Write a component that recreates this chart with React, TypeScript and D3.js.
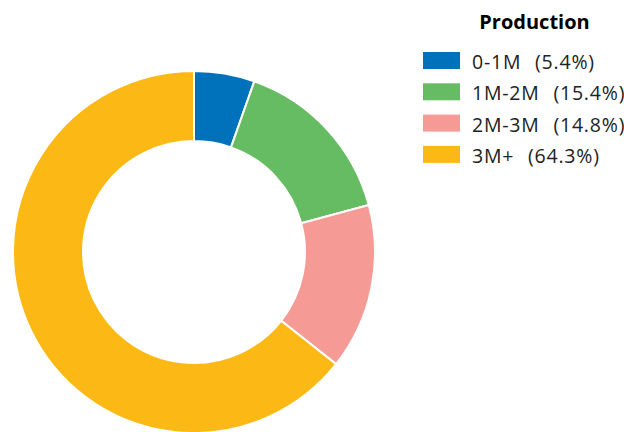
import React from "react";
import * as d3 from "d3";

const categories = ["0-1M", "1M-2M", "2M-3M", "3M+"];
const values = [5.4, 15.4, 14.8, 64.3];
const colors = ["#0072bb", "#66bc62", "#f69a95", "#fcb916"];
const title = "Production";

export default function App() {
  const W = 624, H = 432;
  const cx = 194, cy = 252, rOuter = 181, rInner = 111;
  const pie = d3.pie<number>().sort(null).value((d) => d);
  const arcs = pie(values);
  const arc = d3.arc<d3.PieArcDatum<number>>().innerRadius(rInner).outerRadius(rOuter);
  const font = "'Open Sans', 'Noto Sans', sans-serif";
  const rowY = d3.scaleLinear().domain([0, 1]).range([52, 83.3]);
  return (
    <svg width={W} height={H} style={{ position: "absolute", left: 0, top: 0 }} fontFamily={font}>
      <rect width={W} height={H} fill="#fff" />
      <g transform={`translate(${cx},${cy})`}>
        {arcs.map((a, i) => (
          <path key={i} d={arc(a) || ""} fill={colors[i]} stroke="#fff" strokeWidth={2} />
        ))}
      </g>
      <text x={534.5} y={29} textAnchor="middle" fontWeight="bold" fontSize={20} fill="#000">
        {title}
      </text>
      {categories.map((c, i) => (
        <g key={c} transform={`translate(423,${rowY(i)})`}>
          <rect width={37} height={17} fill={colors[i]} />
          <text x={49} y={17} fontSize={19.5} letterSpacing={0.8} fill="#222" xmlSpace="preserve" style={{ whiteSpace: "pre" }}>
            <tspan>{`${c}\u00a0\u00a0`}</tspan>
            <tspan dx={2}>{`(${values[i].toFixed(1)}%)`}</tspan>
          </text>
        </g>
      ))}
    </svg>
  );
}
